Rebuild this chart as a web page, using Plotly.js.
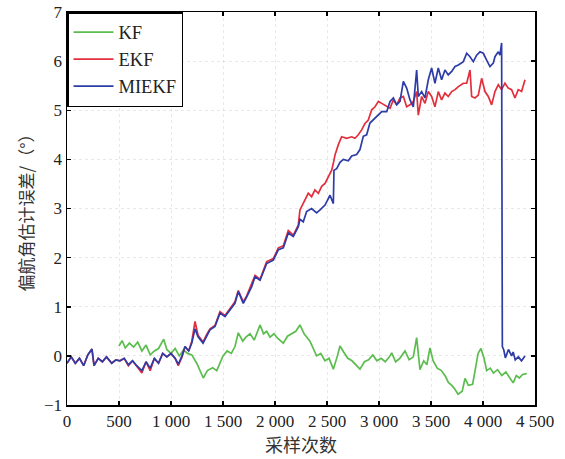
<!DOCTYPE html>
<html>
<head>
<meta charset="utf-8">
<script src="https://cdn.plot.ly/plotly-3.0.1.min.js"></script>
<style>html,body{margin:0;padding:0;background:#fff;}#chart{width:565px;height:459px;}</style>
</head>
<body>
<div id="chart"></div>
<script>
// ---- data ----
const seriesNames = ["KF", "EKF", "MIEKF"];

const kfX = [500,530,560,600,640,680,720,760,800,840,880,930,960,1000,1040,1080,1120,1160,1200,1250,1310,1350,1400,1440,1500,1540,1580,1615,1647,1690,1720,1760,1800,1856,1890,1920,1952,1990,2030,2080,2120,2160,2200,2240,2280,2336,2370,2400,2440,2480,2520,2561,2600,2625,2660,2700,2740,2780,2817,2860,2900,2940,2980,3020,3060,3100,3122,3160,3200,3250,3290,3330,3362,3394,3430,3460,3490,3520,3560,3600,3640,3667,3700,3730,3760,3800,3827,3860,3900,3953,3980,4010,4035,4070,4100,4140,4180,4220,4260,4290,4320,4350,4380,4420];
const kfY = [0.2,0.31,0.16,0.26,0.18,0.28,0.1,0.22,0.02,0.1,0.15,0.34,0.13,0.05,0.15,0.0,0.12,0.05,0.02,-0.16,-0.45,-0.3,-0.24,-0.3,0.0,0.1,0.05,0.19,0.47,0.3,0.38,0.45,0.32,0.63,0.45,0.5,0.38,0.45,0.35,0.26,0.4,0.45,0.5,0.63,0.45,0.3,0.15,0.0,0.05,-0.1,-0.05,-0.27,0.0,0.2,0.08,-0.05,-0.1,-0.18,-0.27,-0.12,-0.08,0.02,-0.1,-0.05,-0.12,-0.02,0.06,-0.12,-0.05,0.1,-0.08,-0.02,0.37,-0.28,-0.1,-0.18,0.16,-0.1,-0.25,-0.3,-0.42,-0.54,-0.6,-0.68,-0.78,-0.72,-0.46,-0.6,-0.58,0.05,0.15,-0.05,-0.3,-0.25,-0.35,-0.28,-0.4,-0.33,-0.45,-0.55,-0.4,-0.45,-0.38,-0.36];

const ekfX = [0,40,80,120,160,200,240,260,300,340,380,430,470,510,550,590,630,670,720,760,800,840,880,920,960,1000,1040,1070,1106,1135,1170,1200,1231,1260,1308,1340,1375,1423,1471,1519,1567,1615,1647,1695,1728,1776,1808,1856,1920,1984,2032,2080,2128,2176,2224,2240,2272,2320,2352,2384,2417,2449,2481,2513,2545,2561,2577,2609,2641,2689,2737,2769,2801,2833,2865,2897,2930,2962,2994,3026,3074,3106,3138,3170,3202,3234,3266,3298,3330,3362,3378,3410,3442,3474,3506,3538,3570,3602,3634,3666,3699,3731,3763,3811,3843,3875,3891,3923,3955,3987,4019,4051,4083,4115,4147,4179,4211,4243,4275,4307,4339,4371,4404];
const ekfY = [-0.15,-0.02,-0.15,-0.05,-0.2,0.02,0.14,-0.2,-0.05,-0.12,-0.02,-0.15,-0.08,-0.1,-0.05,-0.2,-0.1,-0.22,-0.35,-0.12,-0.3,-0.05,-0.15,0.05,-0.02,0.05,-0.05,-0.2,-0.02,0.19,0.1,0.3,0.7,0.42,0.28,0.42,0.55,0.62,0.9,0.82,0.95,1.1,1.33,1.1,1.22,1.45,1.64,1.56,1.92,1.98,2.2,2.24,2.55,2.46,2.66,2.97,3.1,3.31,3.24,3.38,3.31,3.45,3.51,3.65,3.78,3.92,4.09,4.3,4.46,4.43,4.46,4.43,4.5,4.6,4.73,4.8,5.01,5.07,5.18,5.14,5.07,5.04,5.21,5.11,5.25,5.28,5.07,5.11,5.18,5.38,4.9,5.28,5.14,5.38,5.28,5.07,5.38,5.21,5.35,5.28,5.38,5.42,5.48,5.55,5.55,5.82,5.28,5.25,5.31,5.65,5.38,5.28,5.11,5.38,5.52,5.42,5.55,5.45,5.42,5.25,5.42,5.38,5.62];

const miekfX = [0,40,80,120,160,200,240,260,300,340,380,430,470,510,550,590,630,670,720,760,800,840,880,920,960,1000,1040,1070,1106,1135,1170,1200,1231,1260,1308,1340,1375,1423,1471,1519,1567,1615,1647,1695,1728,1776,1808,1856,1920,1984,2032,2080,2128,2176,2224,2240,2272,2304,2352,2400,2433,2481,2529,2561,2567,2593,2625,2657,2705,2737,2785,2817,2849,2881,2913,2945,2977,3026,3074,3106,3138,3170,3202,3234,3266,3298,3330,3362,3378,3410,3442,3474,3506,3538,3570,3602,3634,3666,3699,3731,3763,3811,3843,3875,3907,3939,3971,4003,4035,4067,4099,4115,4147,4163,4179,4186,4200,4215,4245,4275,4290,4310,4340,4370,4404];
const miekfY = [-0.15,-0.02,-0.15,-0.05,-0.2,0.02,0.14,-0.2,-0.05,-0.12,-0.02,-0.15,-0.08,-0.1,-0.05,-0.18,-0.1,-0.2,-0.3,-0.12,-0.25,-0.05,-0.15,0.05,-0.02,0.05,-0.05,-0.17,0.0,0.19,0.1,0.26,0.55,0.39,0.26,0.4,0.53,0.6,0.87,0.8,0.93,1.07,1.31,1.07,1.2,1.41,1.61,1.54,1.88,1.95,2.16,2.2,2.5,2.43,2.63,2.78,2.73,2.94,3.0,2.91,2.97,3.07,3.27,3.1,3.78,3.81,3.94,4.0,3.97,4.07,4.1,4.2,4.47,4.5,4.74,4.8,4.87,4.97,4.97,5.18,5.25,5.11,5.18,5.59,5.45,5.21,5.07,5.82,5.28,5.38,5.25,5.62,5.86,5.55,5.86,5.62,5.82,5.72,5.79,5.89,5.92,5.99,6.16,6.09,5.99,6.12,6.19,6.16,6.02,5.89,5.96,6.09,6.19,6.12,6.37,0.19,0.12,-0.04,0.13,0.0,0.08,-0.08,-0.02,-0.1,0.0];

const xTickVals = [0,500,1000,1500,2000,2500,3000,3500,4000,4500];
const xTickText = ["0","500","1 000","1 500","2 000","2 500","3 000","3 500","4 000","4 500"];
const yTickVals = [-1,0,1,2,3,4,5,6,7];

const xTitle = "采样次数";
const yTitle = "偏航角估计误差/（°）";

// ---- chart ----
const colors = ["#5bbd4e", "#e32f3b", "#2e3ca8"];
const xs = [kfX, ekfX, miekfX];
const ys = [kfY, ekfY, miekfY];
const traces = seriesNames.map((n, i) => ({
  x: xs[i], y: ys[i], name: n, type: "scatter", mode: "lines",
  line: {color: colors[i], width: 1.7}
}));

const serif = "Liberation Serif, Times New Roman, serif";
const axisCommon = {
  showline: true, linecolor: "#000", linewidth: 1.5, mirror: "ticks",
  ticks: "inside", ticklen: 4, tickwidth: 1.5, tickcolor: "#000",
  showgrid: true, gridcolor: "rgba(190,190,190,0.35)", griddash: "dot", gridwidth: 1,
  zeroline: false, tickfont: {family: serif, size: 17, color: "#222"}
};

const layout = {
  width: 565, height: 459,
  margin: {l: 67, r: 30, t: 12, b: 54},
  paper_bgcolor: "#fff", plot_bgcolor: "#fff",
  showlegend: true,
  legend: {
    x: 0, y: 1, xanchor: "left", yanchor: "top",
    bgcolor: "#fff", bordercolor: "#000", borderwidth: 1.5,
    font: {family: serif, size: 18.5, color: "#222"},
    itemwidth: 40, tracegroupgap: 0
  },
  xaxis: Object.assign({}, axisCommon, {
    range: [0, 4500], tickvals: xTickVals, ticktext: xTickText,
    title: {text: xTitle, font: {family: "Noto Sans CJK SC", size: 18, color: "#333"}, standoff: 6}
  }),
  yaxis: Object.assign({}, axisCommon, {
    range: [-1, 7], tickvals: yTickVals,
    title: {text: yTitle, font: {family: "Noto Sans CJK SC", size: 17, color: "#333"}, standoff: 6}
  })
};

Plotly.newPlot("chart", traces, layout, {displayModeBar: false, staticPlot: true});
</script>
</body>
</html>
